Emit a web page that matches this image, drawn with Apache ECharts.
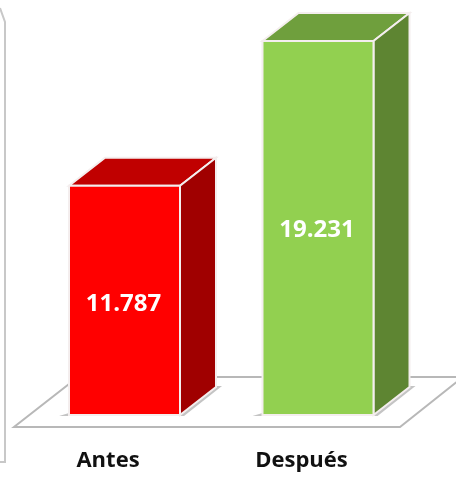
<!DOCTYPE html>
<html>
<head>
<meta charset="utf-8">
<style>
html,body{margin:0;padding:0;background:#fff;}
#chart{width:456px;height:477px;}
</style>
<script src="https://cdn.jsdelivr.net/npm/echarts@6/dist/echarts.min.js"></script>
</head>
<body>
<div id="chart"></div>
<script>
var categories = ['Antes', 'Después'];
var values = [11787, 19231];
var valueLabels = ['11.787', '19.231'];

// colores de cada barra: frente, tapa, lateral
var frontColors = ['#ff0000', '#92d050'];
var topColors = ['#c00000', '#6f9f3d'];
var sideColors = ['#a00000', '#5e8532'];

var barWidth = 111;
var depthX = 36;
var depthY = 28;
var edge = '#f4eeee';

// prisma: frente, tapa y lateral a partir de la escala del eje
function renderPrism(params, api) {
    var i = api.value(0);
    var top = api.coord([i, api.value(1)]);
    var base = api.coord([i, 0]);
    var l = top[0] - barWidth / 2;
    var r = top[0] + barWidth / 2;
    var t = top[1];
    var b = base[1];
    var lineStyle = { stroke: edge, lineWidth: 2 };
    return {
        type: 'group',
        children: [
            {
                type: 'polygon',
                shape: { points: [[l - 10, b + 1], [r + 4, b + 1], [r + depthX + 6, b - depthY - 1], [r + 20, b - depthY - 1], [r, b - 2], [l, b - 2]] },
                style: { fill: '#c4c4c4' }
            },
            {
                type: 'polygon',
                shape: { points: [[l, t], [l + depthX, t - depthY], [r + depthX, t - depthY], [r, t]] },
                style: Object.assign({ fill: topColors[i] }, lineStyle)
            },
            {
                type: 'polygon',
                shape: { points: [[r, t], [r + depthX, t - depthY], [r + depthX, b - depthY], [r, b]] },
                style: Object.assign({ fill: sideColors[i] }, lineStyle)
            },
            {
                type: 'rect',
                shape: { x: l, y: t, width: barWidth, height: b - t },
                style: Object.assign({ fill: frontColors[i] }, lineStyle)
            },
            {
                type: 'text',
                style: {
                    x: top[0] - 1,
                    y: (t + b) / 2 + (i === 0 ? 4 : 2),
                    text: valueLabels[i],
                    fill: '#ffffff',
                    align: 'center',
                    verticalAlign: 'middle',
                    font: 'bold 24px "Open Sans"'
                }
            }
        ]
    };
}

var chart = echarts.init(document.getElementById('chart'));
chart.setOption({
    animation: false,
    grid: { left: 27.75, width: 387, top: 26, height: 389 },
    xAxis: {
        type: 'category',
        data: categories,
        axisLine: { show: false },
        axisTick: { show: false },
        axisLabel: {
            color: '#111',
            fontFamily: 'Open Sans',
            fontWeight: 'bold',
            fontSize: 22,
            margin: 35,
            padding: [0, 33, 0, 0]
        }
    },
    yAxis: { type: 'value', min: 0, max: 20000, show: false },
    graphic: [
        {
            type: 'polygon',
            z: 0,
            shape: { points: [[14, 427], [400, 427], [463, 377], [78, 377]] },
            style: { fill: '#ffffff', stroke: '#b8b8b8', lineWidth: 2 }
        },
        {
            type: 'polyline',
            z: 0,
            shape: { points: [[0, 8], [5, 22], [5, 462], [0, 462]] },
            style: { fill: 'none', stroke: '#c8c8c8', lineWidth: 2 }
        }
    ],
    series: [{
        type: 'custom',
        renderItem: renderPrism,
        encode: { x: 0, y: 1 },
        data: values.map(function (v, i) { return [i, v]; }),
        clip: false
    }]
});
</script>
</body>
</html>
